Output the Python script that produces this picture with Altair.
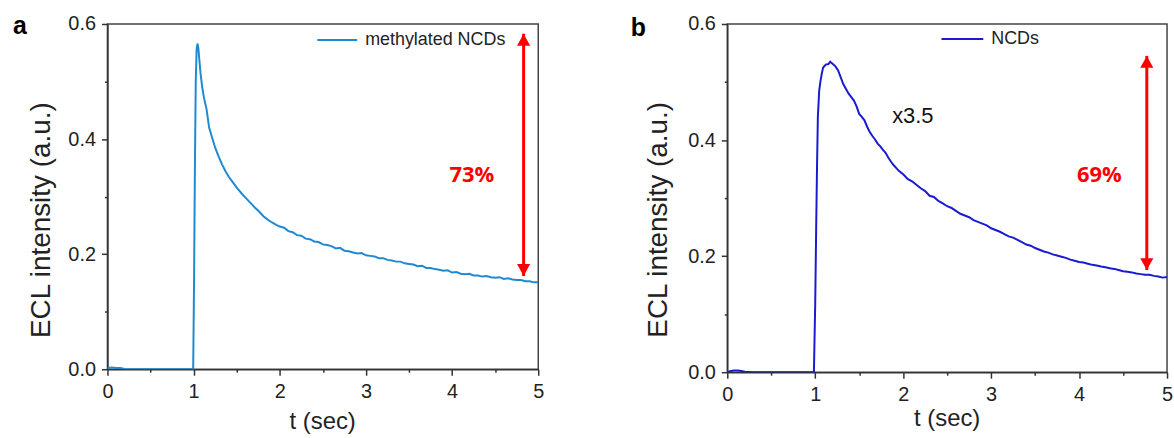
import altair as alt
import pandas as pd

# ---------------- data: panel a (methylated NCDs) ----------------
t_a = [0.0, 0.05, 0.1, 0.15, 0.2, 0.3, 0.5, 0.7, 0.9, 0.995, 1.005, 1.015, 1.025, 1.035,
       1.045, 1.055, 1.065, 1.08, 1.1, 1.12, 1.15, 1.18, 1.21, 1.25, 1.29, 1.33, 1.37,
       1.41, 1.46, 1.51, 1.56, 1.61, 1.66, 1.71, 1.76, 1.81, 1.86, 1.91, 1.96,
       2.00, 2.05, 2.10, 2.15, 2.20, 2.25, 2.30, 2.35, 2.40, 2.45, 2.50, 2.55, 2.60, 2.65,
       2.70, 2.75, 2.80, 2.85, 2.90, 2.95, 3.00, 3.05, 3.10, 3.15, 3.20, 3.25, 3.30, 3.35,
       3.40, 3.45, 3.50, 3.55, 3.60, 3.65, 3.70, 3.75, 3.80, 3.85, 3.90, 3.95, 4.00, 4.05,
       4.10, 4.15, 4.20, 4.25, 4.30, 4.35, 4.40, 4.45, 4.50, 4.55, 4.60, 4.65, 4.70, 4.75,
       4.80, 4.85, 4.90, 4.95, 5.00]
v_a = [0.002, 0.003, 0.002, 0.002, 0.0005, 0.0, 0.0, 0.0, 0.0, 0.0, 0.15, 0.35, 0.5, 0.556,
       0.566, 0.558, 0.54, 0.515, 0.49, 0.472, 0.452, 0.42, 0.405, 0.385, 0.37, 0.356, 0.344,
       0.334, 0.324, 0.314, 0.305, 0.297, 0.289, 0.281, 0.274, 0.266, 0.26, 0.255, 0.251,
       0.248, 0.246, 0.240, 0.238, 0.233, 0.232, 0.227, 0.226, 0.222, 0.221, 0.217, 0.216,
       0.214, 0.210, 0.211, 0.206, 0.205, 0.203, 0.201, 0.202, 0.198, 0.197, 0.196, 0.193,
       0.193, 0.190, 0.189, 0.187, 0.187, 0.184, 0.183, 0.182, 0.179, 0.180, 0.176, 0.176,
       0.174, 0.173, 0.171, 0.172, 0.168, 0.169, 0.166, 0.165, 0.166, 0.163, 0.163, 0.161,
       0.162, 0.160, 0.159, 0.160, 0.157, 0.158, 0.156, 0.155, 0.155, 0.153, 0.153, 0.151,
       0.151]

# ---------------- data: panel b (NCDs) ----------------
t_b = [0.0, 0.04, 0.08, 0.12, 0.16, 0.2, 0.3, 0.5, 0.7, 0.9, 0.985, 1.0, 1.01, 1.02, 1.03,
       1.045, 1.06, 1.075, 1.09, 1.12, 1.15, 1.17, 1.2, 1.23, 1.26, 1.29, 1.32, 1.35, 1.38,
       1.41, 1.44, 1.47, 1.5, 1.53, 1.56, 1.59, 1.62, 1.65, 1.68, 1.71, 1.74, 1.77, 1.8,
       1.83, 1.86, 1.89, 1.92, 1.95,
       2.00, 2.05, 2.10, 2.15, 2.20, 2.25, 2.30, 2.35, 2.40, 2.45, 2.50, 2.55, 2.60, 2.65,
       2.70, 2.75, 2.80, 2.85, 2.90, 2.95, 3.00, 3.05, 3.10, 3.15, 3.20, 3.25, 3.30, 3.35,
       3.40, 3.45, 3.50, 3.55, 3.60, 3.65, 3.70, 3.75, 3.80, 3.85, 3.90, 3.95, 4.00, 4.05,
       4.10, 4.15, 4.20, 4.25, 4.30, 4.35, 4.40, 4.45, 4.50, 4.55, 4.60, 4.65, 4.70, 4.75,
       4.80, 4.85, 4.90, 4.95, 5.00]
v_b = [0.0, 0.002, 0.003, 0.003, 0.002, 0.001, 0.0, 0.0, 0.0, 0.0, 0.0, 0.12, 0.24, 0.35,
       0.44, 0.485, 0.502, 0.515, 0.525, 0.53, 0.531, 0.535, 0.531, 0.527, 0.52, 0.508,
       0.496, 0.488, 0.48, 0.474, 0.468, 0.458, 0.445, 0.44, 0.434, 0.423, 0.414, 0.407,
       0.401, 0.394, 0.389, 0.383, 0.378, 0.37, 0.363, 0.357, 0.352, 0.347,
       0.341, 0.333, 0.329, 0.323, 0.317, 0.312, 0.304, 0.302, 0.295, 0.291, 0.286, 0.283,
       0.278, 0.273, 0.270, 0.267, 0.262, 0.259, 0.256, 0.253, 0.248, 0.245, 0.242, 0.238,
       0.234, 0.232, 0.228, 0.224, 0.220, 0.218, 0.214, 0.211, 0.208, 0.206, 0.203, 0.201,
       0.199, 0.197, 0.194, 0.192, 0.190, 0.189, 0.187, 0.185, 0.184, 0.182, 0.181, 0.179,
       0.178, 0.176, 0.174, 0.173, 0.172, 0.170, 0.169, 0.168, 0.168, 0.166, 0.165, 0.163,
       0.164]

# tick values
x_ticks = [0, 0.5, 1, 1.5, 2, 2.5, 3, 3.5, 4, 4.5, 5]
y_ticks = [0.0, 0.1, 0.2, 0.3, 0.4, 0.5, 0.6]

# annotations
arrow_a = {"t": [4.83], "top": [0.583], "bot": [0.162]}
arrow_b = {"t": [4.77], "top": [0.545], "bot": [0.176]}
pct_a = {"t": [4.23], "v": [0.338], "lab": ["73%"]}
pct_b = {"t": [4.23], "v": [0.339], "lab": ["69%"]}
mult_b = {"t": [2.11], "v": [0.442], "lab": ["x3.5"]}

FONT = "Liberation Sans"
AX = "#333333"


def make_axes(ytitle_pos, xtitle_y, xtitle_x):
    xa = alt.Axis(
        values=x_ticks, title="t (sec)", grid=False, labelFlush=False,
        labelExpr="datum.value % 1 === 0 ? format(datum.value, 'd') : ''",
        tickSize={"condition": {"test": "datum.value % 1 === 0", "value": 6}, "value": 3},
        labelFontSize=20, labelPadding=6, labelFont=FONT, labelColor="#222",
        titleFontSize=24, titleFont=FONT, titleFontWeight="normal", titleColor="#222",
        titleY=xtitle_y, titleX=xtitle_x, titleBaseline="middle", titleAlign="center",
        domainColor=AX, tickColor=AX, domainWidth=1.5, tickWidth=1.5,
    )
    ya = alt.Axis(
        values=y_ticks, title="ECL intensity (a.u.)", grid=False,
        labelExpr="round(datum.value*10) % 2 === 0 ? format(datum.value, '.1f') : ''",
        tickSize={"condition": {"test": "round(datum.value*10) % 2 === 0", "value": 6}, "value": 3},
        labelFontSize=20, labelPadding=6, labelFont=FONT, labelColor="#222",
        titleFontSize=28, titleFont=FONT, titleFontWeight="normal", titleColor="#222",
        titleAngle=270, titleX=ytitle_pos[0], titleY=ytitle_pos[1],
        titleBaseline="middle", titleAlign="center",
        domainColor=AX, tickColor=AX, domainWidth=1.5, tickWidth=1.5,
    )
    return xa, ya


def panel(t, v, name, color, w, h, arrow, pct, letter, letter_x, letter_y,
          ytitle_pos, xtitle_y, xtitle_x, legend_x, legend_y, sym_len, extra=None):
    df = pd.DataFrame({"t": t, "v": v, "s": name})
    xa, ya = make_axes(ytitle_pos, xtitle_y, xtitle_x)
    xs = alt.Scale(domain=[0, 5], nice=False)
    ys = alt.Scale(domain=[0, 0.6], nice=False)

    line = alt.Chart(df).mark_line(strokeWidth=2, clip=True).encode(
        x=alt.X("t:Q", scale=xs, axis=xa),
        y=alt.Y("v:Q", scale=ys, axis=ya),
        color=alt.Color("s:N", scale=alt.Scale(domain=[name], range=[color]),
                        legend=alt.Legend(
                            title=None, orient="none", legendX=legend_x, legendY=legend_y,
                            symbolType="stroke", symbolSize=sym_len * sym_len,
                            symbolStrokeWidth=2, labelFontSize=18, labelFont=FONT,
                            labelColor="#222", labelOffset=7, padding=0)),
    )
    adf = pd.DataFrame(arrow)
    shaft = alt.Chart(adf).mark_rule(color="#ff0000", strokeWidth=3).encode(
        x="t:Q", y=alt.Y("top:Q"), y2="bot:Q")
    head_up = alt.Chart(adf).mark_point(
        shape="M0,-1L1.1,1L-1.1,1Z", filled=True, color="#ff0000", opacity=1,
        size=144, yOffset=6).encode(x="t:Q", y="top:Q")
    head_dn = alt.Chart(adf).mark_point(
        shape="M0,1L1.1,-1L-1.1,-1Z", filled=True, color="#ff0000", opacity=1,
        size=144, yOffset=-6).encode(x="t:Q", y="bot:Q")
    ptxt = alt.Chart(pd.DataFrame(pct)).mark_text(
        font="Open Sans", fontSize=22, fontWeight="bold", color="#ff0000",
        align="center", baseline="middle").encode(x="t:Q", y="v:Q", text="lab:N")
    ltxt = alt.Chart(pd.DataFrame({"lab": [letter]})).mark_text(
        font=FONT, fontSize=25, fontWeight="bold", color="#000", align="left",
        baseline="alphabetic").encode(x=alt.value(letter_x), y=alt.value(letter_y),
                                      text="lab:N")
    layers = [line, shaft, head_up, head_dn, ptxt, ltxt]
    if extra is not None:
        layers.append(alt.Chart(pd.DataFrame(extra)).mark_text(
            font=FONT, fontSize=22, color="#111", align="center", baseline="middle"
        ).encode(x="t:Q", y="v:Q", text="lab:N"))
    return alt.layer(*layers).properties(width=w, height=h)


pa = panel(t_a, v_a, "methylated NCDs", "#1f8ad2", 433, 347, arrow_a, pct_a,
           "a", -95, 9.7, (-66.7, 196.7), 53, 215.8, 210, -5, 40)
pb = panel(t_b, v_b, "NCDs", "#1a1ad2", 442, 350, arrow_b, pct_b,
           "b", -97, 12.3, (-69, 196.3), 47, 220.5, 214.3, -7, 42, extra=mult_b)

chart = alt.hconcat(pa, pb, spacing=190, bounds="flush").resolve_scale(
    color="independent"
).resolve_legend(color="independent").configure(
    padding={"left": 12, "top": 11, "right": 0, "bottom": 0},
    background="white",
).configure_view(stroke="#444444", strokeWidth=1.5)

chart.save("out.html", embed_options={"renderer": "svg", "actions": False})
